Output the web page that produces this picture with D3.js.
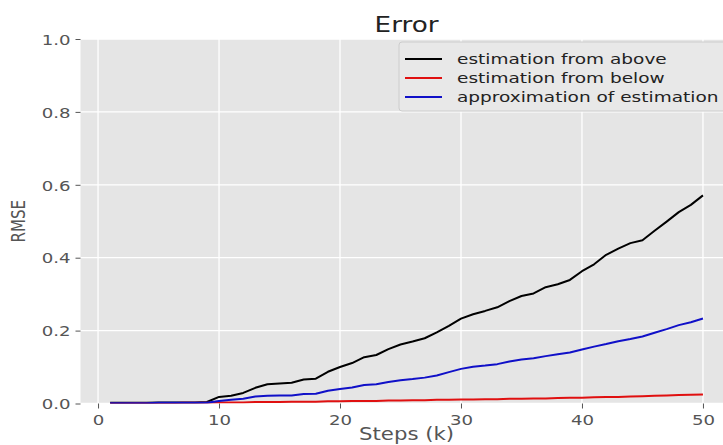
<!DOCTYPE html>
<html>
<head>
<meta charset="utf-8">
<script src="https://cdn.jsdelivr.net/npm/d3@7"></script>
<style>
html,body{margin:0;padding:0;background:#fff;}
svg{display:block;font-family:"DejaVu Sans",sans-serif;}
</style>
</head>
<body>
<svg id="chart" width="723" height="445"></svg>
<script>
const steps = [1,2,3,4,5,6,7,8,9,10,11,12,13,14,15,16,17,18,19,20,21,22,23,24,25,26,27,28,29,30,31,32,33,34,35,36,37,38,39,40,41,42,43,44,45,46,47,48,49,50];
const fromAbove = [0.002,0.002,0.002,0.002,0.003,0.003,0.003,0.003,0.004,0.018,0.021,0.029,0.043,0.053,0.055,0.057,0.066,0.068,0.087,0.100,0.111,0.127,0.133,0.149,0.162,0.170,0.179,0.195,0.213,0.233,0.245,0.254,0.264,0.281,0.295,0.302,0.319,0.327,0.339,0.363,0.382,0.408,0.425,0.440,0.448,0.474,0.499,0.525,0.545,0.571];
const fromBelow = [0.000,0.000,0.001,0.001,0.001,0.001,0.002,0.002,0.002,0.003,0.003,0.003,0.004,0.004,0.004,0.005,0.005,0.005,0.006,0.006,0.007,0.007,0.007,0.008,0.008,0.009,0.009,0.010,0.010,0.011,0.011,0.012,0.012,0.013,0.013,0.014,0.014,0.015,0.016,0.016,0.017,0.018,0.018,0.019,0.020,0.021,0.022,0.023,0.024,0.025];
const approx = [0.001,0.001,0.001,0.001,0.002,0.002,0.002,0.002,0.002,0.007,0.010,0.013,0.019,0.021,0.022,0.022,0.026,0.027,0.035,0.040,0.044,0.051,0.053,0.059,0.064,0.067,0.071,0.077,0.086,0.095,0.101,0.104,0.108,0.115,0.121,0.124,0.130,0.135,0.140,0.148,0.156,0.163,0.171,0.177,0.184,0.194,0.204,0.215,0.223,0.233];
const seriesNames = ["estimation from above","estimation from below","approximation of estimation"];
const seriesColors = ["#000000","#e01010","#1010c8"];
const xTicks = [0,10,20,30,40,50];
const yTicks = [0.0,0.2,0.4,0.6,0.8,1.0];
const title = "Error";
const xLabel = "Steps (k)";
const yLabel = "RMSE";

const SX = 1.25; // horizontal text stretch seen in reference
const svg = d3.select("#chart");
const plot = {left:80.5, right:732.6, top:39, bottom:403.5};
const x = d3.scaleLinear().domain([-1.45, 52.45]).range([plot.left, plot.right]);
const y = d3.scaleLinear().domain([0, 1]).range([plot.bottom, plot.top]);

// background
svg.append("rect").attr("x", plot.left).attr("y", plot.top)
  .attr("width", plot.right - plot.left).attr("height", plot.bottom - plot.top)
  .attr("fill", "#e5e5e5");

// grid
const grid = svg.append("g");
grid.selectAll("line.v").data(xTicks).join("line")
  .attr("x1", d => x(d)).attr("x2", d => x(d))
  .attr("y1", plot.top).attr("y2", plot.bottom)
  .attr("stroke", "#fff").attr("stroke-width", 1.3);
grid.selectAll("line.h").data(yTicks).join("line")
  .attr("x1", plot.left).attr("x2", plot.right)
  .attr("y1", d => y(d)).attr("y2", d => y(d))
  .attr("stroke", "#fff").attr("stroke-width", 1.3);

// axes
const xAxis = svg.append("g").attr("transform", `translate(0,${plot.bottom})`)
  .call(d3.axisBottom(x).tickValues(xTicks).tickFormat(d3.format("d")).tickSize(5).tickSizeOuter(0));
const yAxis = svg.append("g").attr("transform", `translate(${plot.left},0)`)
  .call(d3.axisLeft(y).tickValues(yTicks).tickFormat(d3.format(".1f")).tickSize(5).tickSizeOuter(0));
[xAxis, yAxis].forEach(a => {
  a.select(".domain").remove();
  a.selectAll(".tick line").attr("stroke", "#555").attr("stroke-width", 1);
  a.selectAll(".tick text").attr("fill", "#555").style("font-size", "14.5px")
    .style("font-family", "'DejaVu Sans', sans-serif");
});
xAxis.selectAll(".tick text").attr("y", 0).attr("dy", 0)
  .attr("transform", `translate(0,21) scale(${SX},1)`);
yAxis.selectAll(".tick text").attr("x", 0).attr("dy", "0.36em")
  .attr("transform", `translate(-10,0) scale(${SX},1)`);

// lines
const series = [fromAbove, fromBelow, approx];
const line = d3.line().x((d, i) => x(steps[i])).y(d => y(d));
const clip = svg.append("clipPath").attr("id", "clip").append("rect")
  .attr("x", plot.left).attr("y", plot.top)
  .attr("width", plot.right - plot.left).attr("height", plot.bottom - plot.top);
const lines = svg.append("g").attr("clip-path", "url(#clip)");
lines.selectAll("path").data(series).join("path")
  .attr("d", d => line(d))
  .attr("fill", "none")
  .attr("stroke", (d, i) => seriesColors[i])
  .attr("stroke-width", 2)
  .attr("stroke-linejoin", "round");

// helper for stretched text
function stext(g, tx, ty, str, size, anchor, fill, rot) {
  const t = g.append("text")
    .attr("transform", rot ? `translate(${tx},${ty}) rotate(-90) scale(1,${SX})` : `translate(${tx},${ty}) scale(${SX},1)`)
    .attr("text-anchor", anchor).attr("fill", fill)
    .style("font-size", size + "px").text(str);
  return t;
}

// title and labels
stext(svg, (plot.left + plot.right) / 2, 32, title, 21, "middle", "#222");
stext(svg, (plot.left + plot.right) / 2, 440, xLabel, 17, "middle", "#555");
stext(svg, 25, (plot.top + plot.bottom) / 2, yLabel, 15, "middle", "#555", true);

// legend
const leg = svg.append("g");
leg.append("rect").attr("x", 399).attr("y", 42).attr("width", 340).attr("height", 69)
  .attr("rx", 3).attr("fill", "#e8e8e8").attr("stroke", "#cccccc").attr("stroke-width", 1);
seriesNames.forEach((name, i) => {
  const cy = 59 + i * 19;
  leg.append("line").attr("x1", 405).attr("x2", 442).attr("y1", cy).attr("y2", cy)
    .attr("stroke", seriesColors[i]).attr("stroke-width", 2);
  stext(leg, 457, cy + 5, name, 14.8, "start", "#222");
});
</script>
</body>
</html>
